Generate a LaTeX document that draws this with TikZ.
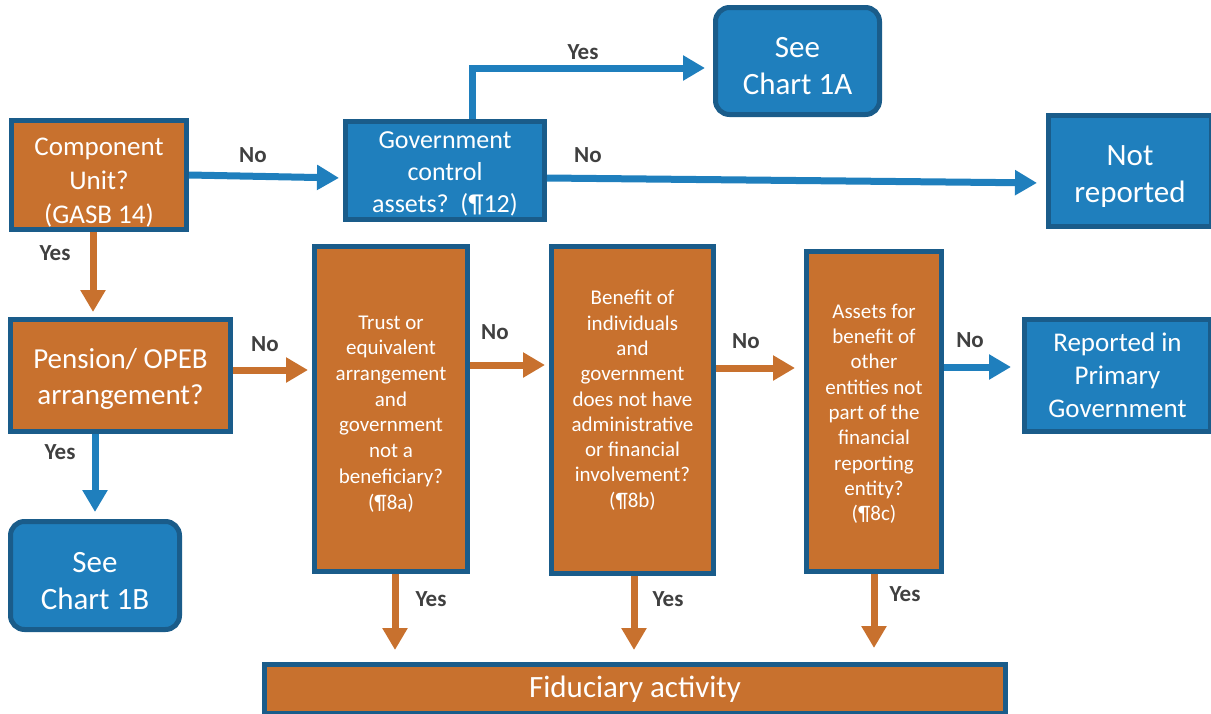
\documentclass[tikz,border=0pt]{standalone}
\usepackage{fontspec}
\setmainfont{Carlito}
\usetikzlibrary{arrows.meta}
\definecolor{orng}{RGB}{200,113,46}
\definecolor{blu}{RGB}{31,127,189}
\definecolor{bord}{RGB}{26,92,138}
\definecolor{lbl}{RGB}{64,64,64}
\newcommand\tdown[2]{\raisebox{-#1}[\height][\depth]{\begin{tabular}{@{}c@{}}#2\end{tabular}}}
\tikzset{
  box/.style={draw=bord, line width=5pt, text=white, align=center, inner sep=0pt},
  obox/.style={box, fill=orng},
  bbox/.style={box, fill=blu},
  rbox/.style={bbox, rounded corners=14pt},
  arr/.style={line width=7pt, -{Triangle[width=24pt,length=22pt]}},
  oarr/.style={arr, draw=orng},
  barr/.style={arr, draw=blu},
  lab/.style={text=lbl, font=\bfseries\fontsize{23}{27}\selectfont, inner sep=0pt},
  big/.style={font=\fontsize{31}{37}\selectfont},
  mid/.style={font=\fontsize{27}{34}\selectfont},
  small/.style={font=\fontsize{21}{25.3}\selectfont}
}
\begin{document}
\begin{tikzpicture}[x=1pt,y=-1pt]
\useasboundingbox (0,0) rectangle (1211,713);
% nodes
\node[obox, mid, minimum width=175pt, minimum height=109pt] (cu) at (99,175) {\tdown{8pt}{Component\\Unit?\\(GASB 14)}};
\node[bbox, font=\fontsize{26}{32}\selectfont, minimum width=199pt, minimum height=98pt] (gov) at (445,170.5) {\tdown{3.5pt}{Government\\control\\assets?~~(¶12)}};
\node[rbox, big, minimum width=164pt, minimum height=107pt] (c1a) at (797.5,61) {\tdown{8pt}{See\\Chart 1A}};
\node[bbox, big, minimum width=163pt, minimum height=111pt] (nr) at (1130,171) {\tdown{6pt}{Not\\reported}};
\node[obox, font=\fontsize{29}{36}\selectfont, minimum width=220pt, minimum height=112pt] (pen) at (120.5,375.5) {\tdown{4pt}{Pension/ OPEB\\arrangement?}};
\node[rbox, big, minimum width=169pt, minimum height=108pt] (c1b) at (95,575.5) {\tdown{8pt}{See\\Chart 1B}};
\node[obox, font=\fontsize{21}{25.7}\selectfont, minimum width=153pt, minimum height=325pt] (trust) at (391,409) {\tdown{5pt}{Trust or\\equivalent\\arrangement\\and\\government\\not a\\beneficiary?\\(¶8a)}};
\node[obox, small, minimum width=162pt, minimum height=327pt] (ben) at (632.5,410) {\tdown{-9pt}{Benefit of\\individuals\\and\\government\\does not have\\administrative\\or financial\\involvement?\\(¶8b)}};
\node[obox, small, minimum width=135pt, minimum height=320pt] (ast) at (874,411.5) {\tdown{3pt}{Assets for\\benefit of\\other\\entities not\\part of the\\financial\\reporting\\entity?\\(¶8c)}};
\node[bbox, font=\fontsize{27}{33}\selectfont, minimum width=186pt, minimum height=112pt] (rep) at (1117.5,375.5) {Reported in\\Primary\\Government};
\node[obox, big, minimum width=741pt, minimum height=49pt] (fid) at (635,689) {Fiduciary activity};
% connectors
\draw[barr, shorten >=4pt] (cu.east) -- ([yshift=-7.5pt]gov.west);
\draw[barr, shorten >=8pt] ([xshift=27pt]gov.north) |- ([yshift=-7pt]c1a.west);
\draw[barr, shorten >=9pt] ([yshift=-7.5pt]gov.east) -- ([yshift=-12pt]nr.west);
\draw[oarr, shorten >=5pt] ([xshift=-6pt]cu.south) -- ([xshift=-6pt]cu.south |- pen.north);
\draw[barr, shorten >=7pt] (c1b.north |- pen.south) -- (c1b.north);
\draw[oarr, shorten >=4pt] ([yshift=5.5pt]pen.east) -- ([yshift=5.5pt]pen.east -| trust.west);
\draw[oarr, shorten >=4pt] ([yshift=44pt]trust.east) -- ([yshift=44pt]trust.east -| ben.west);
\draw[oarr, shorten >=9pt] ([yshift=42pt]ben.east) -- ([yshift=42pt]ben.east -| ast.west);
\draw[barr, shorten >=11pt] ([yshift=44.5pt]ast.east) -- ([yshift=44.5pt]ast.east -| rep.west);
\draw[oarr, shorten >=12pt] ([xshift=4pt]trust.south) -- ([xshift=4pt]trust.south |- fid.north);
\draw[oarr, shorten >=12pt] ([xshift=1.5pt]ben.south) -- ([xshift=1.5pt]ben.south |- fid.north);
\draw[oarr, shorten >=14pt] (ast.south) -- (ast.south |- fid.north);
% labels
\node[lab] (l1) at (253,155) {No};
\node[lab] (l2) at (583,52) {Yes};
\node[lab] (l3) at (588,155) {No};
\node[lab] (l4) at (55,253) {Yes};
\node[lab] (l5) at (60,452) {Yes};
\node[lab] (l6) at (265,344) {No};
\node[lab] (l7) at (495,332) {No};
\node[lab] (l8) at (746,341) {No};
\node[lab] (l9) at (970,340) {No};
\node[lab] (l10) at (431,599) {Yes};
\node[lab] (l11) at (668,599) {Yes};
\node[lab] (l12) at (905,594) {Yes};
\end{tikzpicture}
\end{document}
